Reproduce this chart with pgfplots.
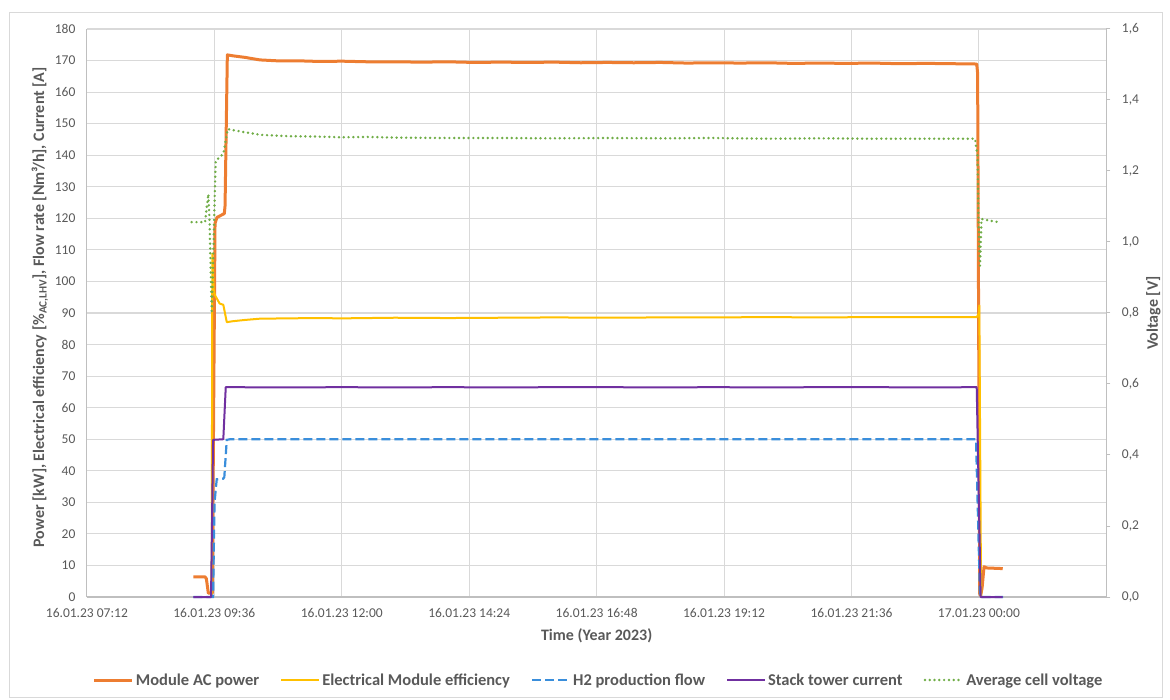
\documentclass[border=0pt]{standalone}
\usepackage{fontspec}
\setmainfont{Carlito}
\usepackage{pgfplots}
\pgfplotsset{compat=1.18}
\definecolor{cOrange}{HTML}{ED7D31}
\definecolor{cYellow}{HTML}{FFC000}
\definecolor{cBlue}{HTML}{3A8EDB}
\definecolor{cPurple}{HTML}{7030A0}
\definecolor{cGreen}{HTML}{70AD47}
\definecolor{cGrid}{HTML}{D9D9D9}
\definecolor{cAxis}{HTML}{BFBFBF}
\definecolor{cText}{HTML}{595959}
\definecolor{cBorder}{HTML}{D9D9D9}
\tikzset{
  sOrange/.style={color=cOrange, line width=3pt, line join=round},
  sYellow/.style={color=cYellow, line width=2pt, line join=round},
  sBlue/.style={color=cBlue, line width=2.2pt, dash pattern=on 9pt off 4pt},
  sPurple/.style={color=cPurple, line width=2pt, line join=round},
  sGreen/.style={color=cGreen, line width=2.7pt, line cap=round, dash pattern=on 0pt off 4.8pt},
}
\begin{document}
\begin{tikzpicture}
\useasboundingbox (-86.9pt,-102pt) rectangle (1083.1pt,597pt);
\draw[color=cBorder, line width=0.8pt] (-77.9pt,-100pt) rectangle (1075.1pt,585pt);
\begin{axis}[
  at={(0pt,0pt)}, anchor=south west,
  scale only axis, width=1019.5pt, height=568pt,
  xmin=7.2, xmax=26.4, ymin=0, ymax=180,
  xtick={7.2,9.6,12,14.4,16.8,19.2,21.6,24,26.4},
  xticklabels={16.01.23 07:12,16.01.23 09:36,16.01.23 12:00,16.01.23 14:24,16.01.23 16:48,16.01.23 19:12,16.01.23 21:36,17.01.23 00:00,{}},
  ytick={0,10,...,180},
  grid=major, major grid style={cGrid, line width=1.1pt},
  axis x line*=bottom, axis y line*=left,
  axis line style={cAxis, line width=1.2pt, -},
  major tick length=0pt,
  tick label style={font=\fontsize{13.5}{16}\selectfont, text=cText},
  /pgf/number format/assume math mode=true,
  xticklabel style={yshift=-8pt},
  yticklabel style={xshift=-8pt},
  xlabel={Time (Year 2023)},
  x label style={at={(axis description cs:0.5,0)}, anchor=center, yshift=-39pt, font=\fontsize{16}{19}\selectfont\bfseries, text=cText},
  ylabel={Power [kW], Electrical efficiency [\%\textsubscript{AC,LHV}], Flow rate [Nm³/h], Current [A]},
  y label style={at={(axis description cs:-0.0461,0.51)}, anchor=center, font=\fontsize{16}{19}\selectfont\bfseries, text=cText},
  legend style={at={(axis description cs:0.502,0)}, anchor=center, yshift=-83pt, draw=none, fill=none,
    font=\fontsize{16.5}{19}\selectfont\bfseries, text=cText,
    /tikz/every even column/.append style={column sep=19pt}},
  legend columns=5,
  legend image code/.code={\draw[#1] (0pt,0pt) -- (38pt,0pt);},
  clip=false,
]
% Module AC power
\addplot[sOrange] coordinates {
(9.205,6.4)(9.425,6.4)(9.45,5.8)(9.487,1.2)(9.562,1.2)(9.613,118.4)(9.65,120.3)(9.788,121.5)(9.802,124)(9.845,171.8)
(9.95,171.5)(10.178,171.0)(10.461,170.2)(10.8,169.9)(11.214,169.9)(11.6,169.7)(12.0,169.8)(12.5,169.6)(13.0,169.6)
(13.5,169.5)(14.0,169.6)(14.5,169.4)(15.0,169.5)(15.5,169.4)(16.0,169.5)(16.5,169.3)(17.0,169.4)(17.5,169.3)(18.0,169.4)
(18.5,169.2)(19.0,169.3)(19.5,169.2)(20.0,169.3)(20.5,169.1)(21.0,169.2)(21.5,169.1)(22.0,169.2)(22.5,169.0)(23.0,169.1)
(23.5,169.0)(23.958,168.9)(23.975,166)(24.015,1)(24.033,0.5)(24.06,3)(24.096,9.6)(24.15,9.2)(24.3,9.1)(24.448,9.0)
};
\addlegendentry{Module AC power}
% Electrical module efficiency
\addplot[sYellow] coordinates {
(9.55,0)(9.562,108.8)(9.59,97)(9.613,95.6)(9.65,94.5)(9.70,93)(9.769,92.6)(9.834,87.1)(9.95,87.4)(10.178,87.8)
(10.461,88.2)(11,88.3)(11.5,88.4)(12,88.3)(13,88.5)(14,88.4)(15,88.5)(16,88.6)(17,88.5)(18,88.6)(19,88.6)(20,88.7)
(21,88.6)(22,88.7)(23,88.7)(23.96,88.7)(24.0,90)(24.007,92.4)(24.04,0)
};
\addlegendentry{Electrical Module efficiency}
% H2 production flow
\addplot[sBlue] coordinates {
(9.205,0)(9.576,0)(9.604,30)(9.645,37.3)(9.769,37.5)(9.788,38)(9.834,49.8)(9.9,50)(12,50)(16,50)(20,50)(23.945,50)(24.020,0)(24.453,0)
};
\addlegendentry{H2 production flow}
% Stack tower current
\addplot[sPurple] coordinates {
(9.205,0)(9.538,0)(9.576,49.8)(9.769,50)(9.815,66.5)(11,66.4)(12,66.5)(13,66.4)(14,66.5)(15,66.4)(16,66.5)(17,66.5)
(18,66.4)(19,66.5)(20,66.4)(21,66.5)(22,66.5)(23,66.4)(23.958,66.5)(24.033,0)(24.448,0)
};
\addlegendentry{Stack tower current}
\addlegendimage{sGreen}
\addlegendentry{Average cell voltage}
\end{axis}
\begin{axis}[
  at={(0pt,0pt)}, anchor=south west,
  scale only axis, width=1019.5pt, height=568pt,
  xmin=7.2, xmax=26.4, ymin=0, ymax=1.6,
  axis x line=none, axis y line*=right,
  axis line style={cAxis, line width=1.2pt, -},
  ytick={0,0.2,...,1.6},
  tick align=outside, major tick length=4pt,
  major tick style={cAxis, line width=1pt},
  tick label style={font=\fontsize{13.5}{16}\selectfont, text=cText},
  /pgf/number format/.cd, fixed, fixed zerofill, precision=1, use comma, assume math mode=true,
  /pgfplots/.cd,
  yticklabel style={xshift=8pt},
  ylabel={Voltage [V]},
  y label style={at={(axis description cs:1.0461,0.5)}, anchor=center, font=\fontsize{16}{19}\selectfont\bfseries, text=cText},
  clip=false,
]
\addplot[sGreen] coordinates {
(9.174,1.056)(9.425,1.056)(9.487,1.135)(9.510,1.058)(9.551,0.799)(9.576,0.933)(9.604,1.111)(9.626,1.229)(9.769,1.248)
(9.852,1.318)(10.178,1.309)(10.461,1.302)(11.0,1.298)(11.5,1.297)(12.0,1.295)(12.5,1.296)(13.0,1.294)(14,1.293)(15,1.293)
(16,1.292)(17,1.293)(18,1.292)(19,1.293)(20,1.291)(21,1.292)(22,1.291)(23,1.291)(23.926,1.291)(23.973,1.244)(23.992,1.065)
(24.020,0.933)(24.048,1.065)(24.209,1.060)(24.365,1.056)
};
\end{axis}
\end{tikzpicture}
\end{document}
